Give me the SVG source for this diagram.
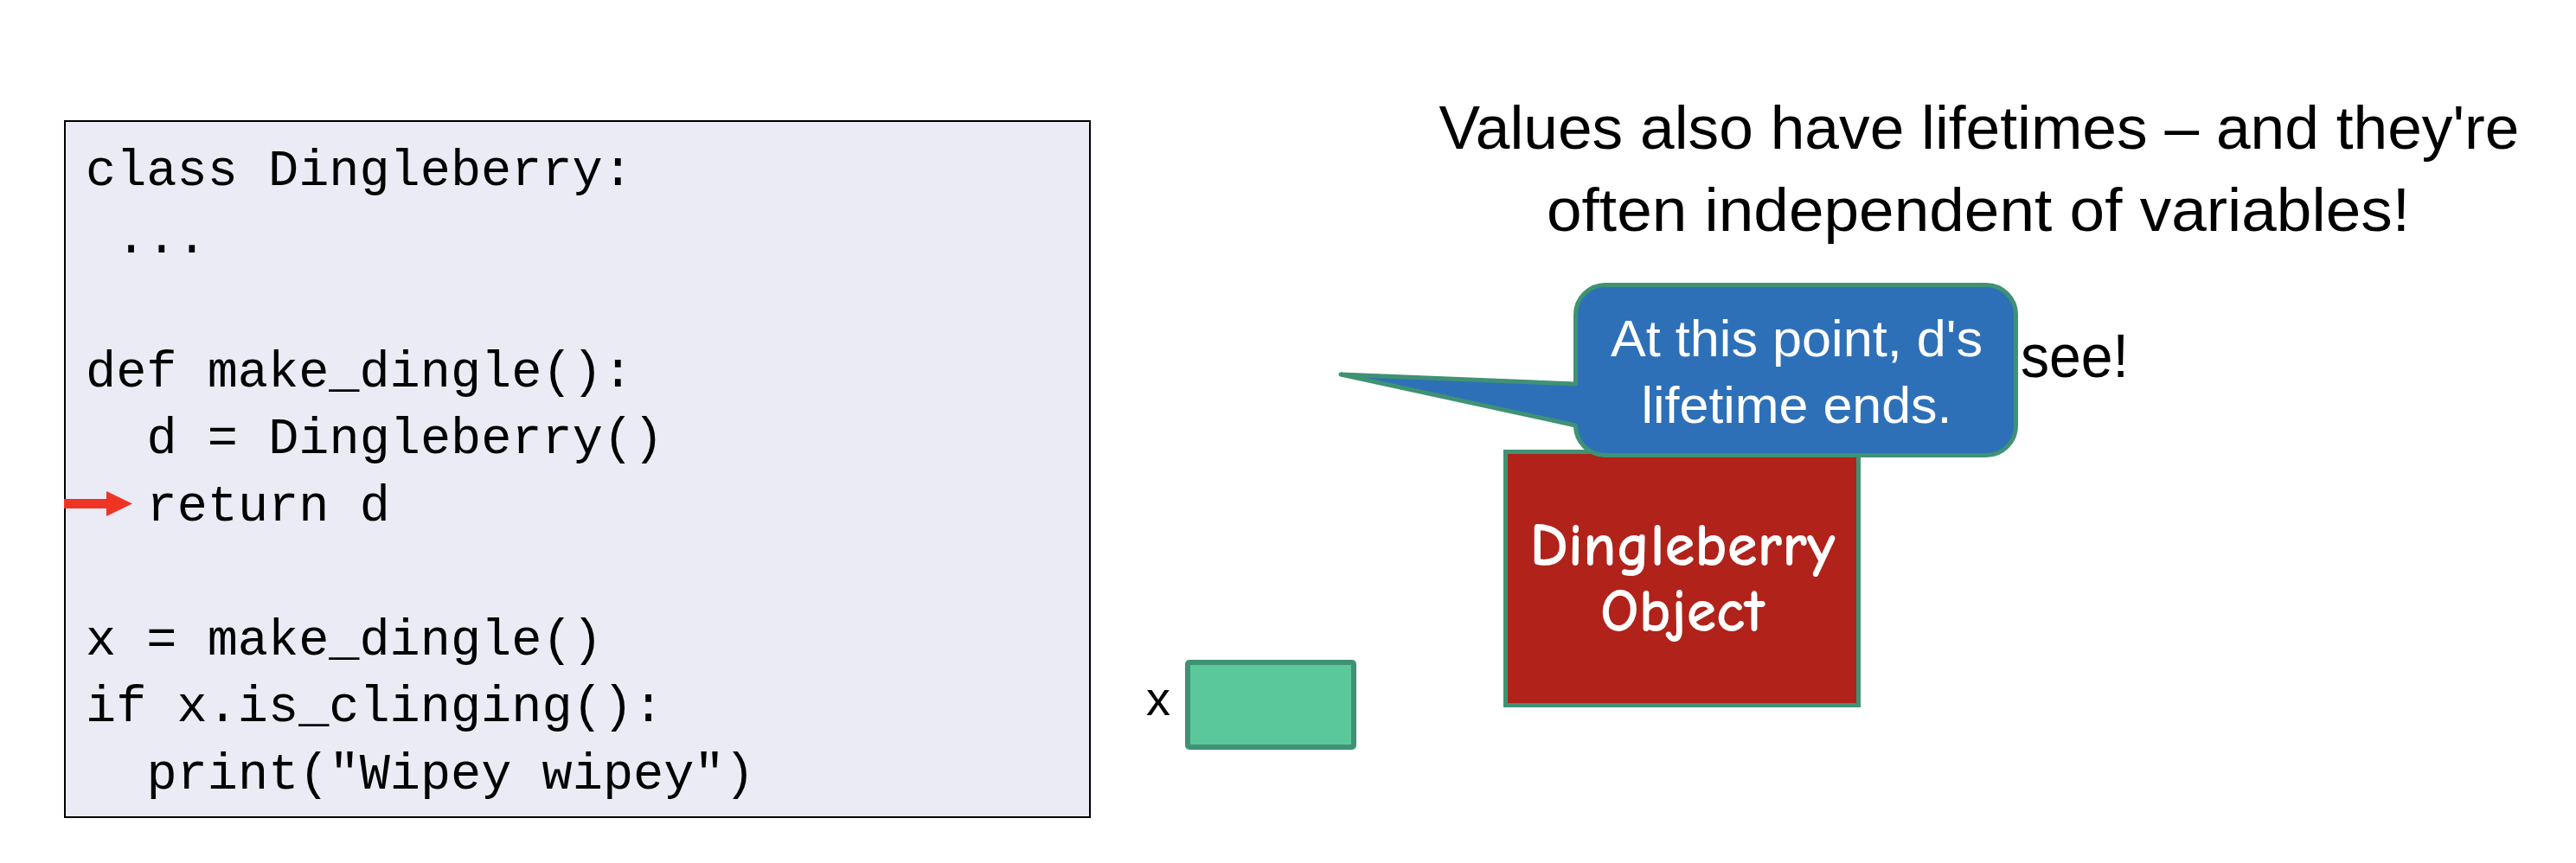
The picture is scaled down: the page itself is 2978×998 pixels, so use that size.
<svg xmlns="http://www.w3.org/2000/svg" width="2978" height="998" viewBox="0 0 2978 998">
<style>
.code{font-family:"Liberation Mono","DejaVu Sans Mono",monospace;font-size:58.6px;fill:#000}
.title{font-family:"Liberation Sans",Arial,sans-serif;font-size:70px;fill:#000;text-anchor:middle}
.call{font-family:"Liberation Sans",Arial,sans-serif;font-size:60px;fill:#fff;text-anchor:middle}
.obj{font-family:"Comic Neue","Liberation Sans",sans-serif;font-size:70px;font-weight:bold;fill:#fff;text-anchor:middle}
.lbl{font-family:"Liberation Sans",Arial,sans-serif;font-size:56px;fill:#000}
.edge{stroke:#3f9273;stroke-width:5}
</style>
<rect width="2978" height="998" fill="#fff"/>
<g id="code">
<rect x="75" y="140" width="1185" height="805" fill="#ebebf6" stroke="#000" stroke-width="2"/>
<text class="code" x="99" y="214">class Dingleberry:</text>
<text class="code" x="134" y="291.5">...</text>
<text class="code" x="99" y="446.5">def make_dingle():</text>
<text class="code" x="169.5" y="524">d = Dingleberry()</text>
<text class="code" x="169.5" y="601.5">return d</text>
<text class="code" x="99" y="756.5">x = make_dingle()</text>
<text class="code" x="99" y="834">if x.is_clinging():</text>
<text class="code" x="169.5" y="911.5">print("Wipey wipey")</text>
</g>
<g id="connectors">
<g id="pc-arrow" fill="#ee3524">
<rect x="74" y="577" width="51" height="11"/>
<polygon points="123,568 153,582.5 123,597"/>
</g>
</g>
<g id="title">
<text class="title" x="2288" y="172" textLength="1249" lengthAdjust="spacingAndGlyphs">Values also have lifetimes – and they're</text>
<text class="title" x="2287" y="267" textLength="998" lengthAdjust="spacingAndGlyphs">often independent of variables!</text>
<text class="title" x="2336" y="436" style="text-anchor:start" textLength="125" lengthAdjust="spacingAndGlyphs">see!</text>
</g>
<g id="var-x">
<text class="lbl" x="1325" y="827">x</text>
<rect x="1373" y="766" width="192" height="98" rx="2" fill="#5bc89b" stroke="#3f9273" stroke-width="6"/>
</g>
<g id="dingleberry-object">
<rect class="edge" x="1740.5" y="522.5" width="408" height="293" fill="#b0221a"/>
<text class="obj" x="1945" y="654" textLength="353" lengthAdjust="spacingAndGlyphs">Dingleberry</text>
<text class="obj" x="1945" y="730">Object</text>
</g>
<g id="callout">
<path class="edge" fill="#2e70b8" stroke-linejoin="round" d="M1856 329.5 H2296 A34.5 34.5 0 0 1 2330.5 364 V492 A34.5 34.5 0 0 1 2296 526.5 H1856 A34.5 34.5 0 0 1 1821.5 492 L1550 433 L1821.5 444 V364 A34.5 34.5 0 0 1 1856 329.5 Z"/>
<text class="call" x="2077" y="412" textLength="430" lengthAdjust="spacingAndGlyphs">At this point, d's</text>
<text class="call" x="2077" y="489" textLength="359" lengthAdjust="spacingAndGlyphs">lifetime ends.</text>
</g>
</svg>
